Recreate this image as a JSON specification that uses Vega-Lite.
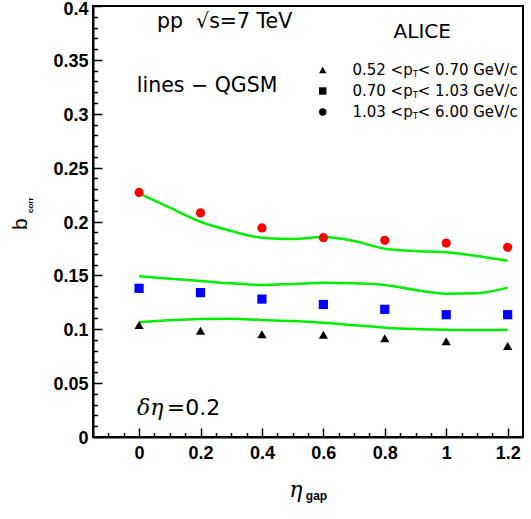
{
  "$schema": "https://vega.github.io/schema/vega-lite/v6.json",
  "width": 430,
  "height": 431,
  "autosize": "none",
  "padding": {"left": 93, "top": 6, "right": 8, "bottom": 82},
  "background": "white",
  "config": {
    "view": {"stroke": "black", "strokeWidth": 2},
    "axis": {
      "domainColor": "black", "domainWidth": 2, "tickColor": "black", "tickWidth": 1.5,
      "labelFont": "Liberation Sans", "labelFontWeight": "bold", "labelFontSize": 18, "labelColor": "black",
      "grid": false, "labelOverlap": false, "labelFlush": false, "title": null
    }
  },
  "datasets": {
    "model": [
      {"bin": "high", "x": 0.0, "y": 0.2262}, {"bin": "high", "x": 0.1, "y": 0.2128}, {"bin": "high", "x": 0.2, "y": 0.1998},
      {"bin": "high", "x": 0.3, "y": 0.1912}, {"bin": "high", "x": 0.4, "y": 0.185}, {"bin": "high", "x": 0.5, "y": 0.1838},
      {"bin": "high", "x": 0.6, "y": 0.1856}, {"bin": "high", "x": 0.7, "y": 0.1819}, {"bin": "high", "x": 0.8, "y": 0.1748},
      {"bin": "high", "x": 0.9, "y": 0.1726}, {"bin": "high", "x": 1.0, "y": 0.1714}, {"bin": "high", "x": 1.1, "y": 0.168},
      {"bin": "high", "x": 1.2, "y": 0.1636},
      {"bin": "mid", "x": 0.0, "y": 0.1491}, {"bin": "mid", "x": 0.1, "y": 0.1469}, {"bin": "mid", "x": 0.2, "y": 0.1448},
      {"bin": "mid", "x": 0.3, "y": 0.1426}, {"bin": "mid", "x": 0.4, "y": 0.1411}, {"bin": "mid", "x": 0.5, "y": 0.142},
      {"bin": "mid", "x": 0.6, "y": 0.1432}, {"bin": "mid", "x": 0.7, "y": 0.1426}, {"bin": "mid", "x": 0.8, "y": 0.1411},
      {"bin": "mid", "x": 0.9, "y": 0.1364}, {"bin": "mid", "x": 1.0, "y": 0.133}, {"bin": "mid", "x": 1.1, "y": 0.1334},
      {"bin": "mid", "x": 1.2, "y": 0.1386},
      {"bin": "low", "x": 0.0, "y": 0.1064}, {"bin": "low", "x": 0.1, "y": 0.1083}, {"bin": "low", "x": 0.2, "y": 0.1095},
      {"bin": "low", "x": 0.3, "y": 0.1098}, {"bin": "low", "x": 0.4, "y": 0.1086}, {"bin": "low", "x": 0.5, "y": 0.1077},
      {"bin": "low", "x": 0.6, "y": 0.1061}, {"bin": "low", "x": 0.7, "y": 0.1037}, {"bin": "low", "x": 0.8, "y": 0.1015},
      {"bin": "low", "x": 0.9, "y": 0.1002}, {"bin": "low", "x": 1.0, "y": 0.0996}, {"bin": "low", "x": 1.1, "y": 0.0993},
      {"bin": "low", "x": 1.2, "y": 0.0996}
    ],
    "alice": [
      {"bin": "high", "x": 0.0, "y": 0.227}, {"bin": "high", "x": 0.2, "y": 0.208}, {"bin": "high", "x": 0.4, "y": 0.194},
      {"bin": "high", "x": 0.6, "y": 0.185}, {"bin": "high", "x": 0.8, "y": 0.1825}, {"bin": "high", "x": 1.0, "y": 0.18},
      {"bin": "high", "x": 1.2, "y": 0.176},
      {"bin": "mid", "x": 0.0, "y": 0.138}, {"bin": "mid", "x": 0.2, "y": 0.134}, {"bin": "mid", "x": 0.4, "y": 0.128},
      {"bin": "mid", "x": 0.6, "y": 0.123}, {"bin": "mid", "x": 0.8, "y": 0.1185}, {"bin": "mid", "x": 1.0, "y": 0.1135},
      {"bin": "mid", "x": 1.2, "y": 0.1135},
      {"bin": "low", "x": 0.0, "y": 0.104}, {"bin": "low", "x": 0.2, "y": 0.0987}, {"bin": "low", "x": 0.4, "y": 0.0953},
      {"bin": "low", "x": 0.6, "y": 0.095}, {"bin": "low", "x": 0.8, "y": 0.0916}, {"bin": "low", "x": 1.0, "y": 0.0888},
      {"bin": "low", "x": 1.2, "y": 0.0845}
    ],
    "legend": [
      {"bin": "low", "x": 0.598, "y": 0.3406, "lo": "0.52 <p", "hi": "< 0.70 GeV/c"},
      {"bin": "mid", "x": 0.598, "y": 0.3211, "lo": "0.70 <p", "hi": "< 1.03 GeV/c"},
      {"bin": "high", "x": 0.598, "y": 0.3016, "lo": "1.03 <p", "hi": "< 6.00 GeV/c"}
    ]
  },
  "encoding": {
    "x": {"field": "x", "type": "quantitative",
      "scale": {"domain": [-0.15, 1.25], "nice": false, "zero": false},
      "axis": {
        "values": [-0.1, -0.05, 0, 0.05, 0.1, 0.15, 0.2, 0.25, 0.3, 0.35, 0.4, 0.45, 0.5, 0.55, 0.6, 0.65, 0.7, 0.75, 0.8, 0.85, 0.9, 0.95, 1, 1.05, 1.1, 1.15, 1.2],
        "tickSize": {"condition": {"test": "abs(datum.value*5 - round(datum.value*5)) < 1e-6", "value": -9}, "value": -4.5},
        "labelExpr": "abs(datum.value*5 - round(datum.value*5)) < 1e-6 ? format(datum.value, '~g') : ''",
        "labelPadding": 16
      }
    },
    "y": {"field": "y", "type": "quantitative",
      "scale": {"domain": [0, 0.4], "nice": false},
      "axis": {
        "values": [0, 0.01, 0.02, 0.03, 0.04, 0.05, 0.06, 0.07, 0.08, 0.09, 0.1, 0.11, 0.12, 0.13, 0.14, 0.15, 0.16, 0.17, 0.18, 0.19, 0.2, 0.21, 0.22, 0.23, 0.24, 0.25, 0.26, 0.27, 0.28, 0.29, 0.3, 0.31, 0.32, 0.33, 0.34, 0.35, 0.36, 0.37, 0.38, 0.39, 0.4],
        "tickSize": {"condition": {"test": "abs(datum.value*20 - round(datum.value*20)) < 1e-6", "value": -9}, "value": -4.5},
        "labelExpr": "abs(datum.value*20 - round(datum.value*20)) < 1e-6 ? format(datum.value, '~g') : ''",
        "labelPadding": 14,
        "labelOffset": {"condition": {"test": "datum.value > 0.395", "value": 3.5}, "value": 1.5}
      }
    }
  },
  "layer": [
    {
      "data": {"name": "model"},
      "mark": {"type": "line", "interpolate": "monotone", "color": "#00ee00", "strokeWidth": 2.5},
      "encoding": {"detail": {"field": "bin"}}
    },
    {
      "data": {"name": "alice"},
      "mark": {"type": "point", "filled": true, "opacity": 1, "size": 85},
      "encoding": {
        "color": {"field": "bin", "type": "nominal", "scale": {"domain": ["low", "mid", "high"], "range": ["black", "#0000ff", "#ff0000"]}, "legend": null},
        "shape": {"field": "bin", "type": "nominal", "scale": {"domain": ["low", "mid", "high"], "range": ["triangle-up", "square", "circle"]}, "legend": null}
      }
    },
    {
      "data": {"name": "legend"},
      "mark": {"type": "point", "filled": true, "opacity": 1, "size": 55, "color": "black"},
      "encoding": {
        "shape": {"field": "bin", "type": "nominal", "legend": null}
      }
    },
    {
      "data": {"name": "legend"},
      "mark": {"type": "text", "align": "left", "baseline": "middle", "font": "DejaVu Sans", "fontSize": 15, "color": "black", "dx": 29.7},
      "encoding": {"text": {"field": "lo"}}
    },
    {
      "data": {"name": "legend"},
      "mark": {"type": "text", "align": "left", "baseline": "middle", "font": "DejaVu Sans", "fontSize": 9, "color": "black", "dx": 90, "dy": 4},
      "encoding": {"text": {"value": "T"}}
    },
    {
      "data": {"name": "legend"},
      "mark": {"type": "text", "align": "left", "baseline": "middle", "font": "DejaVu Sans", "fontSize": 15, "color": "black", "dx": 95},
      "encoding": {"text": {"field": "hi"}}
    },
    {
      "data": {"values": [{"x": 0.0585, "y": 0.3793, "t": "pp\u00a0\u00a0√s=7 TeV"}]},
      "mark": {"type": "text", "align": "left", "baseline": "alphabetic", "font": "DejaVu Sans", "fontSize": 20.5, "color": "black"},
      "encoding": {"text": {"field": "t"}}
    },
    {
      "data": {"values": [{"x": -0.0075, "y": 0.3205, "t": "lines − QGSM"}]},
      "mark": {"type": "text", "align": "left", "baseline": "alphabetic", "font": "DejaVu Sans", "fontSize": 20.5, "color": "black"},
      "encoding": {"text": {"field": "t"}}
    },
    {
      "data": {"values": [{"x": 0.922, "y": 0.37, "t": "ALICE"}]},
      "mark": {"type": "text", "align": "center", "baseline": "alphabetic", "font": "DejaVu Sans", "fontSize": 20, "color": "black"},
      "encoding": {"text": {"field": "t"}}
    },
    {
      "data": {"values": [{"x": -0.0065, "y": 0.0204, "t": "δη"}]},
      "mark": {"type": "text", "align": "left", "baseline": "alphabetic", "font": "DejaVu Serif", "fontStyle": "italic", "fontSize": 22, "color": "black"},
      "encoding": {"text": {"field": "t"}}
    },
    {
      "data": {"values": [{"x": 0.09, "y": 0.0204, "t": "=0.2"}]},
      "mark": {"type": "text", "align": "left", "baseline": "alphabetic", "font": "DejaVu Sans", "fontSize": 22, "color": "black"},
      "encoding": {"text": {"field": "t"}}
    },
    {
      "data": {"values": [{"x": 0.4888, "y": -0.0557, "t": "η"}]},
      "mark": {"type": "text", "align": "left", "baseline": "alphabetic", "font": "DejaVu Serif", "fontStyle": "italic", "fontSize": 22, "color": "black"},
      "encoding": {"text": {"field": "t"}}
    },
    {
      "data": {"values": [{"x": 0.543, "y": -0.0589, "t": "gap"}]},
      "mark": {"type": "text", "align": "left", "baseline": "alphabetic", "font": "Liberation Sans", "fontWeight": "bold", "fontSize": 12, "color": "black"},
      "encoding": {"text": {"field": "t"}}
    },
    {
      "data": {"values": [{"x": -0.3642, "y": 0.1921, "t": "b"}]},
      "mark": {"type": "text", "align": "left", "baseline": "alphabetic", "angle": 270, "font": "Liberation Sans", "fontSize": 21, "color": "black"},
      "encoding": {"text": {"field": "t"}}
    },
    {
      "data": {"values": [{"x": -0.344, "y": 0.2079, "t": "corr"}]},
      "mark": {"type": "text", "align": "left", "baseline": "alphabetic", "angle": 270, "font": "Liberation Sans", "fontWeight": "bold", "fontSize": 8, "color": "black"},
      "encoding": {"text": {"field": "t"}}
    }
  ]
}
